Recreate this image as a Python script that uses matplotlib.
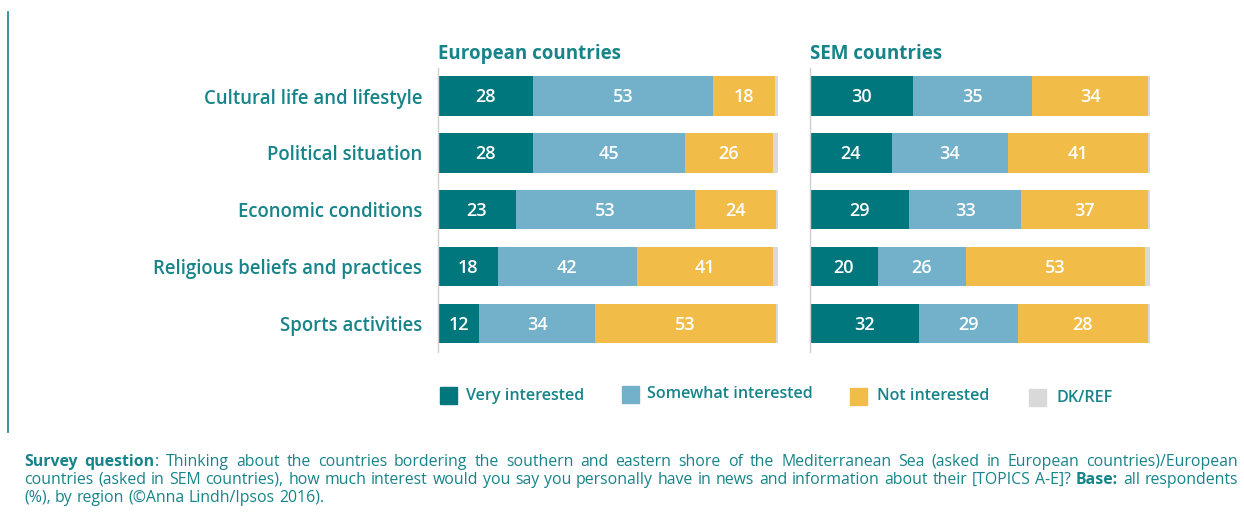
import matplotlib.pyplot as plt
from matplotlib.patches import Rectangle
from matplotlib.lines import Line2D

plt.rcParams['font.family'] = ['Open Sans', 'DejaVu Sans']

topics = ['Cultural life and lifestyle', 'Political situation', 'Economic conditions',
          'Religious beliefs and practices', 'Sports activities']
panels = ['European countries', 'SEM countries']
series = ['Very interested', 'Somewhat interested', 'Not interested', 'DK/REF']
colors = ['#00767d', '#72b1c9', '#f1bc47', '#d9d9d9']
teal = '#17848a'

eu_very = [28, 28, 23, 18, 12]
eu_some = [53, 45, 53, 42, 34]
eu_not = [18, 26, 24, 41, 53]
eu_dk = [1, 1.5, 0.5, 1.5, 0.5]

sem_very = [30, 24, 29, 20, 32]
sem_some = [35, 34, 33, 26, 29]
sem_not = [34, 41, 37, 53, 38]          # bar length as drawn in the source
sem_not_text = ['34', '41', '37', '53', '28']   # label as printed in the source
sem_dk = [0.5, 0.7, 0.7, 1.5, 0.7]

W, H = 1244, 512
fig = plt.figure(figsize=(W / 100, H / 100), dpi=100)

def fx(px):
    return px / W

def fy(py):
    return 1 - py / H

panel_data = [
    (438, [eu_very, eu_some, eu_not, eu_dk], None),
    (810, [sem_very, sem_some, sem_not, sem_dk], sem_not_text),
]

for k, (left, rows, not_text) in enumerate(panel_data):
    ax = fig.add_axes([fx(left), fy(352), fx(340), 284.4 / H])
    y = list(range(len(topics)))
    totals = [sum(r[i] for r in rows) for i in y]
    start = [0] * len(topics)
    for j, vals in enumerate(rows):
        widths = [vals[i] / totals[i] * 100 for i in y]
        ax.barh(y, widths, left=start, height=0.69, color=colors[j], linewidth=0)
        if j < 3:
            for i in y:
                txt = not_text[i] if (j == 2 and not_text) else str(vals[i])
                ax.text(start[i] + widths[i] / 2, i + 0.02, txt, ha='center', va='center',
                        color='white', fontsize=13, fontweight='semibold')
        start = [start[i] + widths[i] for i in y]
    ax.set_xlim(0, 100)
    ax.set_ylim(len(topics) - 0.5, -0.5)
    ax.set_xticks([])
    for s in ['top', 'right', 'bottom']:
        ax.spines[s].set_visible(False)
    ax.spines['left'].set_color('#d0d0d0')
    ax.spines['left'].set_linewidth(1)
    if k == 0:
        ax.set_yticks(y)
        ax.set_yticklabels(topics, fontsize=13.4, fontweight='semibold', color=teal)
        ax.tick_params(axis='y', length=0, pad=11.5)
    else:
        ax.set_yticks([])
    fig.text(fx(left), fy(54), panels[k], fontsize=13.5, fontweight='bold',
             color=teal, va='center', ha='left')

# legend
sq_x = [440, 622, 850, 1029]
sq_top = [387, 386, 388, 389]
tx_x = [466, 647, 877, 1056]
for i, name in enumerate(series):
    fig.add_artist(Rectangle((fx(sq_x[i]), fy(sq_top[i] + 17)), fx(17), 17 / H,
                             color=colors[i], transform=fig.transFigure))
    fig.text(fx(tx_x[i]), fy(sq_top[i] + 8.5), name, fontsize=11.6, fontweight='semibold',
             color=teal, va='center', ha='left')

# left rule
fig.add_artist(Line2D([fx(8), fx(8)], [fy(12), fy(432)], color=teal, lw=1.2,
                      transform=fig.transFigure))

# footer, justified like the source
def draw_runs(runs, x0, x1, ypx, justify):
    words = [[]]
    for s, w in runs:
        parts = s.split(' ')
        for i, p in enumerate(parts):
            if i > 0:
                words.append([])
            if p:
                words[-1].append((p, w))
    words = [wd for wd in words if wd]
    r = fig.canvas.get_renderer()
    kw = dict(fontsize=11.4, color=teal, va='baseline', ha='left')
    a = fig.text(0, 0, 'x x', **kw)
    b = fig.text(0, 0, 'xx', **kw)
    space = (a.get_window_extent(r).width - b.get_window_extent(r).width)
    a.remove()
    b.remove()
    items = []
    total = 0
    for wd in words:
        pieces = []
        ww = 0
        for p, w in wd:
            t = fig.text(0, fy(ypx), p, fontweight=w, **kw)
            pw = t.get_window_extent(r).width
            pieces.append((t, pw))
            ww += pw
        items.append(pieces)
        total += ww
    gap = (x1 - x0 - total) / (len(items) - 1) if justify else space
    x = x0
    for pieces in items:
        for t, pw in pieces:
            t.set_x(fx(x))
            x += pw
        x += gap

draw_runs([('Survey question', 'bold'),
           (': Thinking about the countries bordering the southern and eastern shore of the '
            'Mediterranean Sea (asked in European countries)/European', 'normal')],
          24, 1238, 466, True)
draw_runs([('countries (asked in SEM countries), how much interest would you say you personally '
            'have in news and information about their [TOPICS A-E]? ', 'normal'),
           ('Base:', 'bold'), (' all respondents', 'normal')],
          24, 1238, 484, True)
draw_runs([('(%), by region (\u00a9Anna Lindh/Ipsos 2016).', 'normal')], 24, 1238, 502, False)

fig.savefig('out.png', dpi=100)
